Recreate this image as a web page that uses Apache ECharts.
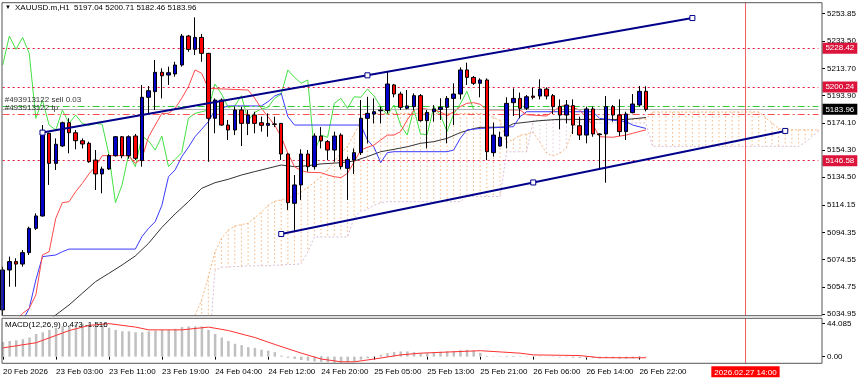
<!DOCTYPE html>
<html><head><meta charset="utf-8">
<script src="https://cdn.jsdelivr.net/npm/echarts@6/dist/echarts.min.js"></script>
<style>html,body{margin:0;padding:0;background:#fff}#c{width:860px;height:381px}</style>
</head><body><div id="c"></div><script>
// ---------- DATA ----------
const opens  = [5037.9,5067.0,5073.1,5071.3,5079.6,5097.3,5106.3,5166.5,5144.6,5157.3,5174.2,5166.9,5161.1,5159.2,5147.0,5136.9,5140.5,5150.2,5164.0,5150.2,5164.5,5146.6,5192.7,5196.8,5210.9,5208.9,5209.7,5216.2,5237.3,5227.6,5236.3,5224.7,5177.4,5190.7,5172.5,5168.9,5183.4,5173.7,5179.8,5174.2,5172.3,5173.3,5173.7,5151.4,5115.5,5128.9,5151.4,5142.2,5164.5,5160.4,5154.3,5165.2,5141.0,5147.0,5152.4,5177.4,5180.5,5182.9,5183.0,5201.7,5195.1,5184.7,5185.9,5193.9,5175.7,5182.2,5183.9,5185.4,5191.9,5195.1,5212.6,5207.2,5202.9,5205.3,5152.4,5157.2,5164.5,5188.8,5191.9,5184.7,5193.6,5193.6,5198.7,5193.9,5185.9,5179.8,5186.6,5172.0,5165.2,5184.2,5166.0,5166.0,5185.9,5179.8,5167.7,5181.5,5187.1,5197.04];
const highs  = [5069.4,5076.7,5075.5,5081.5,5098.5,5108.2,5172.5,5166.9,5162.8,5175.0,5177.4,5168.9,5162.8,5160.4,5154.3,5142.2,5151.4,5164.5,5164.5,5165.0,5166.0,5201.6,5200.9,5219.9,5213.8,5215.0,5218.6,5238.8,5238.1,5250.9,5238.8,5225.0,5191.9,5191.9,5176.2,5185.9,5185.9,5183.4,5182.2,5178.6,5181.0,5178.6,5174.0,5151.9,5136.1,5154.8,5154.3,5166.5,5171.0,5161.6,5167.7,5166.5,5149.5,5155.5,5190.7,5193.1,5191.9,5185.9,5211.4,5202.4,5196.8,5198.0,5195.6,5195.1,5183.4,5187.0,5192.0,5193.6,5202.9,5214.5,5217.9,5208.2,5206.5,5206.5,5174.2,5167.7,5192.7,5199.2,5196.1,5194.4,5199.9,5205.8,5199.9,5195.1,5191.2,5190.7,5191.2,5178.6,5185.9,5185.9,5166.5,5193.6,5187.1,5191.2,5182.2,5195.1,5200.9,5200.71];
const lows   = [5034.0,5054.8,5054.8,5069.4,5077.9,5096.1,5105.8,5128.9,5139.8,5156.5,5151.9,5154.8,5155.5,5145.0,5125.2,5122.8,5139.8,5149.5,5148.3,5148.0,5147.0,5142.2,5181.0,5183.4,5191.9,5201.7,5207.7,5215.0,5225.9,5223.5,5218.6,5145.8,5166.5,5172.0,5161.6,5165.2,5157.2,5165.2,5166.5,5167.7,5164.0,5171.0,5147.0,5110.7,5094.9,5118.0,5138.6,5140.0,5155.5,5147.0,5145.8,5140.3,5118.0,5136.9,5150.7,5159.2,5173.7,5173.7,5181.0,5192.7,5183.4,5183.9,5183.4,5175.0,5155.5,5175.0,5176.2,5159.2,5172.5,5191.2,5201.7,5201.7,5192.7,5147.0,5149.5,5156.7,5155.5,5179.1,5177.4,5183.4,5191.2,5191.2,5191.2,5180.5,5169.4,5173.7,5166.0,5161.6,5159.2,5164.0,5140.3,5130.5,5175.0,5164.5,5161.6,5181.0,5185.9,5182.46];
const closes = [5067.0,5073.1,5071.3,5079.6,5097.3,5106.3,5167.7,5144.6,5158.5,5174.2,5166.9,5161.1,5158.7,5145.8,5136.9,5140.5,5150.2,5164.0,5150.2,5164.0,5148.3,5192.7,5197.5,5210.9,5208.4,5210.6,5216.2,5237.3,5227.6,5236.3,5224.7,5177.4,5190.7,5172.5,5168.9,5183.4,5173.7,5179.8,5173.7,5172.3,5173.7,5173.0,5151.4,5116.0,5128.9,5151.4,5142.2,5164.5,5160.9,5154.3,5164.5,5142.2,5147.5,5152.4,5177.4,5181.0,5182.2,5183.4,5202.4,5195.1,5185.4,5186.4,5193.9,5175.7,5181.7,5184.2,5185.4,5191.9,5195.1,5212.6,5207.2,5202.9,5205.3,5153.1,5165.2,5163.6,5188.3,5191.9,5184.7,5193.1,5192.7,5198.7,5193.6,5185.9,5179.8,5187.1,5172.5,5165.2,5184.2,5166.0,5165.5,5185.9,5179.8,5167.7,5180.5,5187.8,5197.04,5183.96];

const timeLabels = ["20 Feb 2026","23 Feb 03:00","23 Feb 11:00","23 Feb 19:00","24 Feb 04:00","24 Feb 12:00","24 Feb 20:00","25 Feb 05:00","25 Feb 13:00","25 Feb 21:00","26 Feb 06:00","26 Feb 14:00","26 Feb 22:00"];
const markerTime = "2026.02.27 14:00";
const markerIndex = 112;
const totalSlots = 124;

const priceTicks = [5253.85,5233.50,5213.70,5193.90,5174.10,5154.30,5134.50,5114.15,5094.35,5074.55,5054.75,5034.95];
const levelLines = [5228.42,5200.24,5146.58];
const bidPrice = 5183.96, sellPrice = 5186.5, tpPrice = 5180.5;
const orderLabel = "#493913122";

const tenkan = [[2,5030],[3,5035.4],[4,5039],[5,5048.8],[6,5078],[7,5080.3],[8,5104.6],[9,5116],[10,5116.7],[11,5124],[12,5130],[13,5136.9],[14,5142.2],[15,5150.2],[19,5150.2],[20,5144.6],[21,5148.3],[22,5164],[23,5172.5],[24,5181],[25,5181],[26,5184.7],[27,5192],[28,5200.4],[29,5212.6],[30,5210.2],[31,5199.2],[37,5198],[38,5192],[39,5184.7],[40,5178.6],[41,5172.5],[42,5164],[43,5151.9],[44,5142.2],[45,5139.3],[46,5138.1],[48,5137.8],[49,5136.1],[50,5134.9],[51,5134.2],[52,5137.4],[53,5145.8],[54,5154.3],[55,5156.3],[56,5158],[57,5161.6],[58,5165.2],[59,5165.2],[60,5167.7],[61,5176.2],[62,5183.4],[63,5184.7],[65,5183.4],[66,5182.2],[67,5179.1],[68,5182.2],[69,5185.9],[70,5188.3],[71,5188.8],[72,5187.6],[73,5183.5],[78,5183.5],[79,5180],[82,5179.1],[84,5185.9],[85,5187.1],[87,5183.4],[89,5172.5],[90,5164],[92,5163.6],[94,5165.2],[95,5166.5],[97,5169]];
const kijun = [[3,5030],[4,5039],[5,5059.7],[6,5076.7],[8,5077.9],[9,5080.3],[10,5082.2],[20,5082.2],[21,5091.3],[22,5097.3],[23,5102.2],[24,5114],[25,5134.9],[26,5139.8],[27,5149.5],[28,5156.3],[29,5164],[30,5169.4],[31,5174.9],[32,5183.4],[33,5184.7],[34,5186.4],[39,5186.4],[40,5189.5],[41,5193.6],[42,5195.6],[43,5178.6],[44,5172.5],[54,5172.5],[55,5161.6],[56,5156.3],[57,5145.1],[58,5152.4],[59,5153.1],[67,5153.1],[68,5154.3],[69,5162.8],[70,5168.9],[72,5170],[77,5171.3],[78,5178.6],[79,5182.2],[89,5182.2],[90,5177.4],[92,5176],[94,5175],[95,5172.5],[97,5170]];
const slowMA = [[6,5028],[8,5034.2],[10,5041.5],[12,5050],[14,5058.5],[16,5064.5],[18,5070.6],[20,5077.2],[22,5086.4],[24,5098],[26,5107.8],[28,5116.7],[30,5126.4],[32,5130.5],[34,5133],[36,5136.1],[38,5138.6],[40,5141],[42,5143.4],[44,5142.2],[46,5142.9],[48,5144.2],[51,5145.1],[53,5146.3],[55,5149.5],[57,5153.1],[59,5154.8],[61,5156.7],[63,5159.2],[65,5160.4],[67,5162.8],[69,5167],[71,5169.9],[72,5170.8],[76,5171],[77,5173.5],[81,5175.7],[84,5176.7],[90,5176.5],[94,5176.5],[97,5178]];
const chikouShift = 26;

const cloudStart = 29;
const spanA = [5034,5045,5062,5080,5090,5096,5099,5100,5101,5105,5109,5114,5117,5118,5119.5,5121,5124,5127,5131,5135,5140,5146,5152,5157,5166,5175,5180,5181,5181,5181,5181,5181,5181,5181,5181,5181,5181,5181,5181,5181,5181,5181,5181,5181,5180,5178,5176,5160,5162,5165,5166,5167,5160,5152,5150,5152,5156,5170,5176,5177,5177,5177,5177,5177,5177,5177,5177,5177,5177,5182,5182,5182,5182,5182,5182,5182,5182,5182,5182,5182,5182,5182,5182,5182,5182,5182,5178,5174,5170,5169,5169,5169,5169,5169,5169];
const spanB = [5000,5000,5000,5066.5,5069,5069,5069.5,5069.5,5070,5070,5070,5070,5070.5,5070.5,5071,5071,5071.5,5080,5091,5091,5091,5091,5091,5091,5105,5110,5111,5114,5116,5116.7,5116.7,5116.7,5116.7,5116.7,5116.7,5116.7,5116.7,5116.7,5116.7,5116.7,5116.7,5120.5,5120.5,5120.5,5120.5,5120.5,5120.5,5153,5153,5153,5153,5176,5176,5176,5176,5176,5176,5176,5174,5174,5174,5174,5174,5174,5174,5174,5174,5174,5174,5157,5157,5157,5157,5157,5157,5157,5157,5157,5157,5157,5157,5157,5157,5157,5157,5157,5157,5157,5157,5157,5157,5157,5160,5164,5168];

const upperTrend = [[6,5167.0],[55,5208.7],[104,5250.4]];
const lowerTrend = [[42,5093.2],[80,5130.7],[118,5168.2]];

const macdHist = [19.5,20.8,21.7,23.1,25.4,30.1,32.4,35.6,38.4,40.2,41.6,43.0,43.9,43.0,41.6,41.6,38.4,35.6,33.7,33.7,32.4,32.4,33.7,34.7,35.6,35.6,37.0,39.3,40.2,40.2,40.2,35.6,30.1,25.4,20.8,17.1,15.3,12.5,11.6,9.2,7.9,6.0,1.4,-1.5,-3.0,-4.5,-5.5,-6.5,-7.0,-7.5,-8.0,-8.0,-7.5,-6.5,-4.0,-2.0,0.5,2.3,4.6,6.0,6.9,6.9,6.0,4.6,4.6,5.5,6.5,7.0,7.5,8.5,9.0,8.0,5.0,1.0,-0.5,0.5,1.0,1.0,0.5,0.5,0.3,0.5,0.2,-0.5,-1.0,-0.8,-1.5,-2.0,-1.5,-2.0,-2.5,-2.0,-2.5,-3.0,-3.0,-2.5,-2.0,0.473];
const macdSignal = [[0,11.6],[5,18.5],[10,34.7],[13,41.6],[16,43.9],[20,39.3],[22,35.6],[27,35.6],[31,39.3],[34,34.7],[38,25.4],[41,16.2],[45,4.6],[48,-3.2],[51,-6.9],[53,-6.9],[56,-3.2],[60,2.3],[63,4.6],[72,7.9],[78,4.6],[80,2.3],[87,1.4],[90,-1.4],[93,-1.516],[97,-1.516]];
const macdTicks = [44.085, 0];
const macdTitle = "MACD(12,26,9) 0.473 -1.516";

// ---------- BUILD ----------
const cats = Array.from({length: totalSlots}, (_, i) => String(i));
const candles = opens.map((o, i) => [o, closes[i], lows[i], highs[i]]);
const chikou = [];
for (let i = 0; i + chikouShift < closes.length; i++) chikou.push([i, closes[i + chikouShift]]);
const cloud = spanA.map((a, k) => [cloudStart + k, a, spanB[k]]);
const spanALine = spanA.map((a, k) => [cloudStart + k, a]);
const spanBLine = spanB.map((b, k) => [cloudStart + k, b]);
const last = opens.length - 1;
const FONT = '"Liberation Sans", Arial, sans-serif';
const GL = 2.7, GW = 815.7;

const chart = echarts.init(document.getElementById('c'), null, {renderer: 'canvas'});

const levelMark = levelLines.map(v => ({
  yAxis: v,
  lineStyle: {color: '#e0183c', type: [2, 3], width: 1},
  label: {show: true, position: 'end', distance: 4, formatter: v.toFixed(2), color: '#fff', backgroundColor: '#dc143c', padding: [1, 3, 0, 3], fontSize: 8, fontFamily: FONT, lineHeight: 10}
}));

const option = {
  animation: false,
  backgroundColor: '#fff',
  grid: [
    {left: GL, top: 2.7, width: GW, height: 313},
    {left: GL, top: 318.3, width: GW, height: 45}
  ],
  xAxis: [
    {type: 'category', gridIndex: 0, data: cats, boundaryGap: false, axisLine: {show: false}, axisTick: {show: false}, axisLabel: {show: false}, splitLine: {show: false}},
    {type: 'category', gridIndex: 1, data: cats, boundaryGap: false, axisLine: {show: false},
      axisTick: {show: true, length: 3, interval: i => i % 8 === 0 && i / 8 < timeLabels.length, lineStyle: {color: '#000'}},
      axisLabel: {show: true, interval: i => i % 8 === 0 && i / 8 < timeLabels.length, formatter: (v, i) => timeLabels[i / 8] || '', align: 'left', fontSize: 8, fontFamily: FONT, color: '#000', margin: 4},
      splitLine: {show: false}}
  ],
  yAxis: [
    {type: 'value', gridIndex: 0, position: 'right', offset: 3.6, min: 5033.7, max: 5261.57, scale: true,
      axisLine: {show: false},
      axisTick: {show: true, length: 3, customValues: priceTicks, lineStyle: {color: '#000'}},
      axisLabel: {show: true, customValues: priceTicks, formatter: v => v.toFixed(2), fontSize: 8, fontFamily: FONT, color: '#000', margin: 5},
      splitLine: {show: false}},
    {type: 'value', gridIndex: 1, position: 'right', offset: 3.6, min: -8.9, max: 51,
      axisLine: {show: false},
      axisTick: {show: true, length: 3, customValues: macdTicks, lineStyle: {color: '#000'}},
      axisLabel: {show: true, customValues: macdTicks, formatter: v => v === 0 ? '0.00' : String(v), fontSize: 8, fontFamily: FONT, color: '#000', margin: 5},
      splitLine: {show: false}}
  ],
  graphic: [
    {type: 'rect', shape: {x: 2, y: 2.7, width: 820, height: 313}, style: {fill: 'none', stroke: '#555', lineWidth: 1}, z: 100, silent: true},
    {type: 'rect', shape: {x: 2, y: 318.3, width: 820, height: 45}, style: {fill: 'none', stroke: '#555', lineWidth: 1}, z: 100, silent: true},
    {type: 'text', left: 5, top: 4, style: {text: '\u25BC', fontSize: 6, fill: '#000', fontFamily: FONT}, z: 100},
    {type: 'text', left: 15, top: 3.5, style: {text: `XAUUSD.m,H1  ${opens[last].toFixed(2)} ${highs[last].toFixed(2)} ${lows[last].toFixed(2)} ${closes[last].toFixed(2)}`, fontSize: 8, fill: '#000', fontFamily: FONT}, z: 100},
    {type: 'text', left: 5, top: 321, style: {text: macdTitle, fontSize: 8, fill: '#000', fontFamily: FONT}, z: 100}
  ],
  series: [
    {type: 'custom', name: 'cloud', xAxisIndex: 0, yAxisIndex: 0, data: cloud, clip: true, z: 1,
      encode: {x: 0, y: [1, 2]},
      renderItem: (params, api) => {
        const x = api.value(0), a = api.value(1), b = api.value(2);
        const p1 = api.coord([x, a]), p2 = api.coord([x, b]);
        return {type: 'line', shape: {x1: p1[0], y1: p1[1], x2: p2[0], y2: p2[1]},
          style: {stroke: a >= b ? '#f4a460' : '#d8bfd8', lineWidth: 1, lineDash: [1.5, 2.5], opacity: 0.8}};
      }},
    {type: 'line', name: 'spanA', data: spanALine, showSymbol: false, lineStyle: {color: '#f4a460', width: 1, type: [2, 2], opacity: 0.8}, z: 2},
    {type: 'line', name: 'spanB', data: spanBLine, showSymbol: false, lineStyle: {color: '#d8bfd8', width: 1, type: [2, 2]}, z: 2},
    {type: 'line', name: 'ma', data: slowMA, showSymbol: false, lineStyle: {color: '#333', width: 1}, z: 3},
    {type: 'line', name: 'chikou', data: chikou, showSymbol: false, lineStyle: {color: '#44e044', width: 1}, z: 3},
    {type: 'line', name: 'kijun', data: kijun, showSymbol: false, lineStyle: {color: '#3a3aff', width: 1}, z: 3},
    {type: 'line', name: 'tenkan', data: tenkan, showSymbol: false, lineStyle: {color: '#ff4a4a', width: 1}, z: 3},
    {type: 'candlestick', name: 'XAUUSD', data: candles, barWidth: 4, z: 5,
      itemStyle: {color: '#0000c8', color0: '#ff0000', borderColor: '#000', borderColor0: '#000', borderWidth: 1},
      markLine: {symbol: ['none', 'none'], silent: true, animation: false,
        data: [
          ...levelMark,
          {yAxis: sellPrice, lineStyle: {color: '#33cc33', type: [7, 3, 2, 3], width: 1},
            label: {show: true, position: 'insideStartTop', distance: 2, formatter: orderLabel + ' sell 0.03', color: '#333', fontSize: 8, fontFamily: FONT}},
          {yAxis: bidPrice, lineStyle: {color: '#b0b0b0', type: 'solid', width: 1},
            label: {show: true, position: 'end', distance: 4, formatter: bidPrice.toFixed(2), color: '#fff', backgroundColor: '#000', padding: [1, 3, 0, 3], fontSize: 8, fontFamily: FONT, lineHeight: 10}},
          {yAxis: tpPrice, lineStyle: {color: '#ff5050', type: [7, 3, 2, 3], width: 1},
            label: {show: true, position: 'insideStartTop', distance: 2, formatter: orderLabel + ' tp', color: '#333', fontSize: 8, fontFamily: FONT}},
          {xAxis: markerIndex, lineStyle: {color: '#f06060', type: 'solid', width: 1}, label: {show: false}}
        ]}},
    {type: 'line', name: 'upper', data: upperTrend, symbol: 'rect', symbolSize: 5, showAllSymbol: true,
      itemStyle: {color: '#fff', borderColor: '#00008b', borderWidth: 1},
      lineStyle: {color: '#00008b', width: 2}, z: 6},
    {type: 'line', name: 'lower', data: lowerTrend, symbol: 'rect', symbolSize: 5, showAllSymbol: true,
      itemStyle: {color: '#fff', borderColor: '#00008b', borderWidth: 1},
      lineStyle: {color: '#00008b', width: 2}, z: 6},
    {type: 'bar', name: 'macd', xAxisIndex: 1, yAxisIndex: 1, data: macdHist, barWidth: 2.5, itemStyle: {color: '#c0c0c0'}, z: 2,
      markLine: {symbol: ['none', 'none'], silent: true, animation: false,
        data: [{xAxis: markerIndex, lineStyle: {color: '#f06060', type: 'solid', width: 1},
          label: {show: true, position: 'start', distance: 3, formatter: markerTime, color: '#fff', backgroundColor: '#ff0000', padding: [1, 3, 0, 3], fontSize: 8, fontFamily: FONT, lineHeight: 10}}]}},
    {type: 'line', name: 'signal', xAxisIndex: 1, yAxisIndex: 1, data: macdSignal, showSymbol: false, lineStyle: {color: '#ff3030', width: 1}, z: 3}
  ]
};
chart.setOption(option);
</script></body></html>
